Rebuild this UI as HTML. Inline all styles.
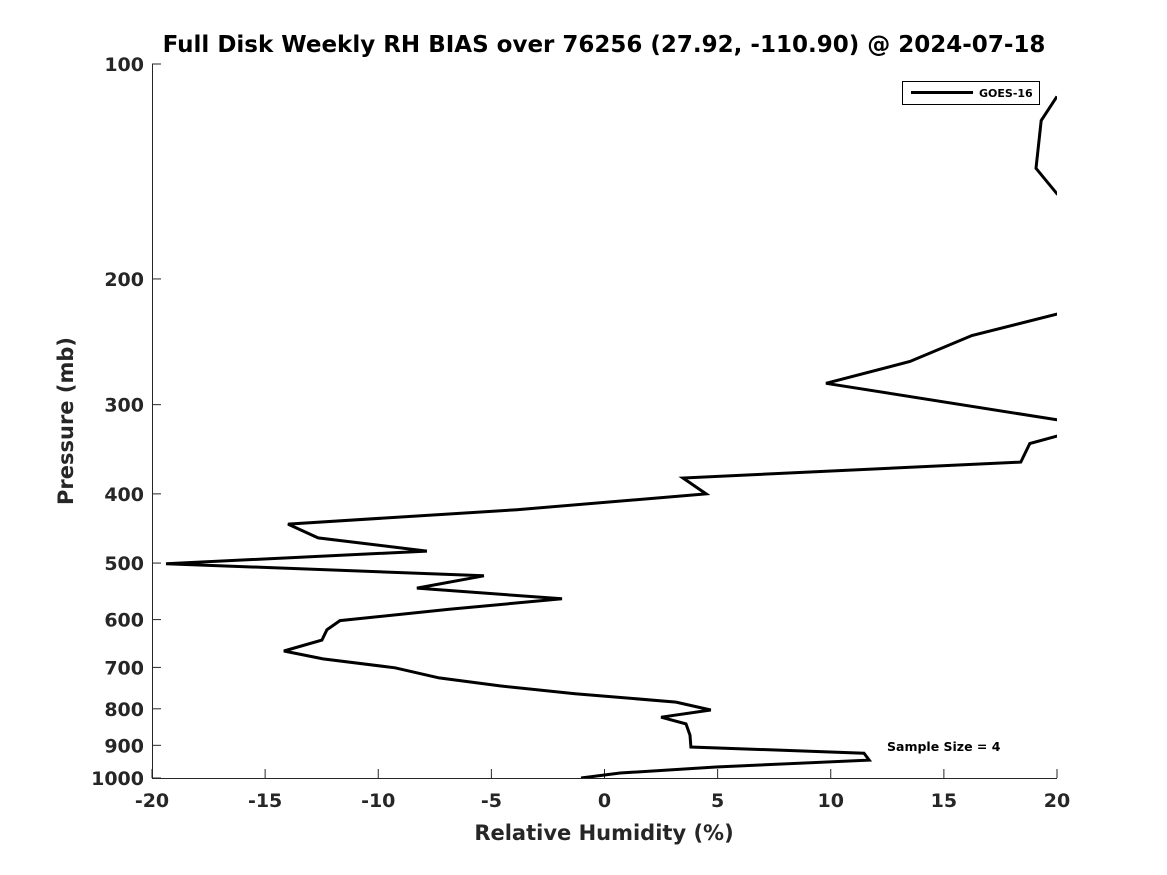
<!DOCTYPE html>
<html><head><meta charset="utf-8"><style>
body{margin:0;background:#fff}
svg{display:block;font-family:"DejaVu Sans","Liberation Sans",sans-serif;font-weight:bold}
</style></head><body>
<svg id="chart" width="1167" height="875">
<defs><clipPath id="clip"><rect x="152" y="64" width="905" height="714"/></clipPath></defs>
<text x="604" y="52" text-anchor="middle" font-size="23" fill="#000">Full Disk Weekly RH BIAS over 76256 (27.92, -110.90) @ 2024-07-18</text>
<g id="axes"></g>
<g id="series" clip-path="url(#clip)"></g>
<g>
<rect x="902.5" y="81.5" width="137" height="23" fill="#fff" stroke="#000" stroke-width="1"/>
<line x1="911" y1="92.5" x2="973" y2="92.5" stroke="#000" stroke-width="3"/>
<text x="979" y="97" font-size="11">GOES-16</text>
</g>
<text x="887" y="751" font-size="12.5">Sample Size = 4</text>
<text x="604" y="840" text-anchor="middle" font-size="21" fill="#262626">Relative Humidity (%)</text>
<text transform="translate(73,421) rotate(-90)" text-anchor="middle" font-size="21" fill="#262626">Pressure (mb)</text>
</svg>
<script>
const xTicks=[-20,-15,-10,-5,0,5,10,15,20];
const yTicks=[100,200,300,400,500,600,700,800,900,1000];
const rhBias=[20,19.3,19.07,20,23,24,20,16.24,13.5,9.79,20,22,20,18.8,18.4,3.47,4.49,-3.87,-13.99,-12.66,-7.85,-19.38,-5.33,-8.29,-1.88,-6.8,-11.69,-12.27,-12.49,-14.17,-12.44,-9.26,-7.31,-4.62,-1.3,3.16,4.7,2.5,3.6,3.78,3.82,11.47,11.7,4.93,0.69,-1.04];
const pressure=[111,120,140,152,175,210,224,240,261,280,315,325,332,340,361,380,400,421,441,461,481,501,521,542,561,580,602,620,641,664,681,701,724,743,762,783,803,822,840,871,905,923,944,965,984,1000];
const X0=152,X1=1057,Y0=64,Y1=778;
const xs=v=>X0+(v+20)/40*(X1-X0);
const ys=p=>Y0+(Math.log10(p)-2)*(Y1-Y0);
const NS="http://www.w3.org/2000/svg";
const ax=document.getElementById('axes');
function mk(t,a,parent){const e=document.createElementNS(NS,t);for(const k in a)e.setAttribute(k,a[k]);parent.appendChild(e);return e;}
const xl=mk('line',{x1:X0,y1:Y1+0.5,x2:X1,y2:Y1+0.5,stroke:'#262626','stroke-width':1},ax);


const yl=mk('line',{x1:X0+0.5,y1:Y0,x2:X0+0.5,y2:Y1,stroke:'#262626','stroke-width':1},ax);


xTicks.forEach(v=>{const x=xs(v);
mk('line',{x1:x,y1:Y1,x2:x,y2:Y1-9,stroke:'#262626'},ax);
const t=mk('text',{x:x,y:Y1+29,'text-anchor':'middle','font-size':19,fill:'#262626'},ax);
t.textContent=v;

});
yTicks.forEach(v=>{const y=ys(v);
mk('line',{x1:X0,y1:y,x2:X0+9,y2:y,stroke:'#262626'},ax);
const t=mk('text',{x:X0-8,y:y+7,'text-anchor':'end','font-size':19,fill:'#262626'},ax);
t.textContent=v;

});
const pts=rhBias.map((v,i)=>xs(v).toFixed(1)+','+ys(pressure[i]).toFixed(1)).join(' ');
const pl=mk('polyline',{points:pts,fill:'none',stroke:'#000','stroke-width':3,'stroke-linejoin':'miter'},document.getElementById('series'));


</script>
</body></html>
